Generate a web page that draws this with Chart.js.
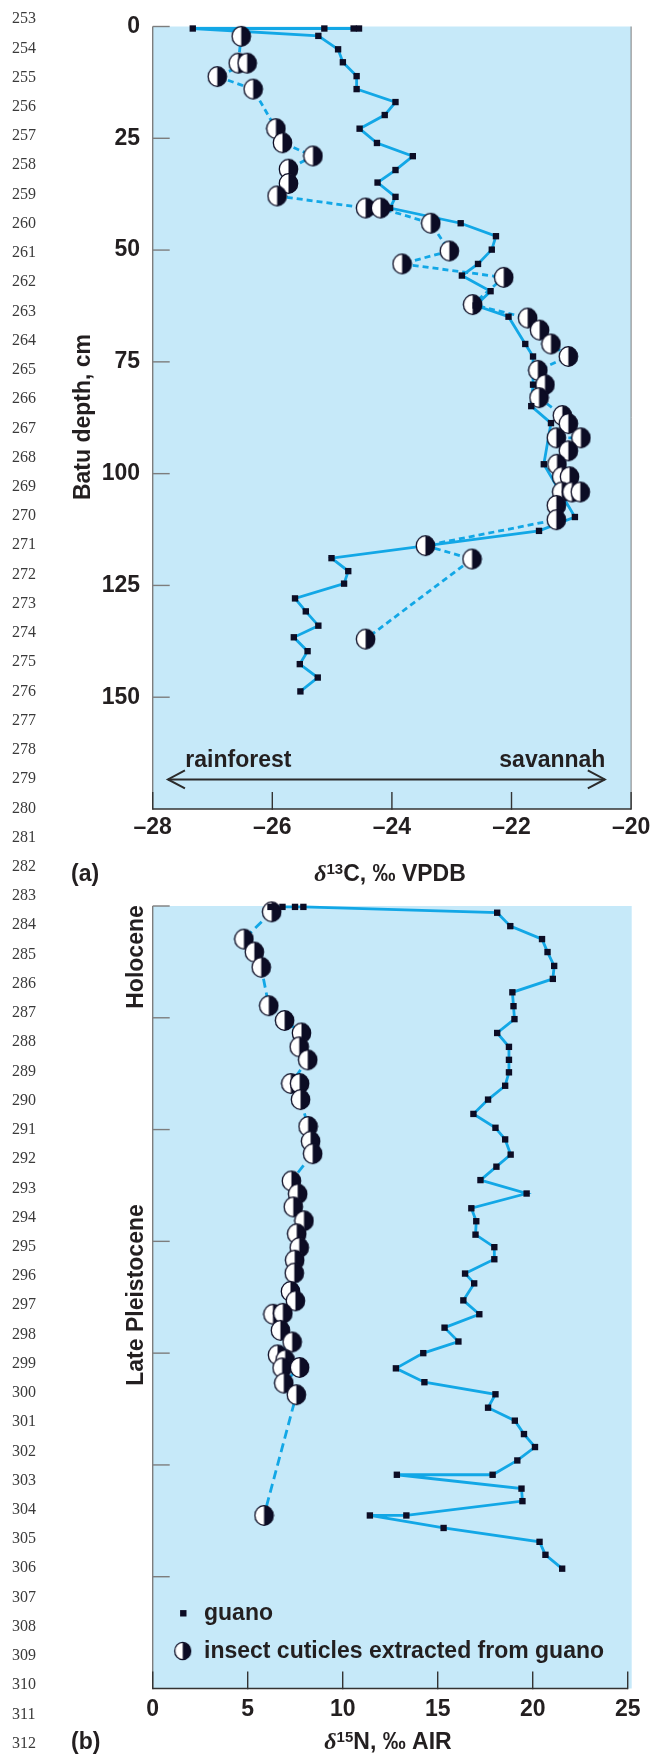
<!DOCTYPE html>
<html>
<head>
<meta charset="utf-8">
<script src="https://cdn.jsdelivr.net/npm/chart.js@4.4.1/dist/chart.umd.min.js"></script>
<style>
html, body { margin: 0; padding: 0; background: #fff; }
#wrap { position: relative; width: 655px; height: 1755px; overflow: hidden; }
#wrap canvas { position: absolute; left: 0; }
.ln { position: absolute; left: 12px; font: 16px "Liberation Serif", "DejaVu Serif", serif; color: #3a3a3a; line-height: 16px; }
</style>
</head>
<body>
<div id="wrap">
  <canvas id="c13" width="655" height="900" style="top:0"></canvas>
  <canvas id="n15" width="655" height="875" style="top:880px"></canvas>
</div>
<script>
// panel (a): d13C vs depth
const carbonGuanoX = [-24.55, -24.64, -25.13, -27.33, -25.23, -24.90, -24.82, -24.59, -24.59, -23.94, -24.12, -24.54, -24.25, -23.65, -23.94, -24.24, -23.94, -24.03, -22.85, -22.26, -22.33, -22.56, -22.83, -22.35, -22.60, -22.05, -21.77, -21.64, -21.64, -21.67, -21.34, -21.46, -20.94, -21.54, -25.01, -24.73, -24.80, -25.62, -25.44, -25.23, -25.64, -25.41, -25.54, -25.24, -25.53];
const carbonGuanoDepth = [0.45, 0.45, 0.45, 0.45, 2.1, 5.1, 8.0, 11.1, 14.0, 16.9, 19.8, 22.85, 26.05, 29.0, 32.1, 34.9, 38.1, 40.6, 44.0, 46.9, 49.9, 53.1, 55.7, 59.2, 62.4, 64.9, 71.0, 73.8, 80.1, 84.9, 88.7, 97.9, 109.7, 112.8, 118.9, 121.8, 124.6, 127.9, 130.8, 134.0, 136.6, 139.7, 142.6, 145.6, 148.7];
const carbonCuticleX = [-26.52, -26.57, -26.42, -26.92, -26.32, -25.94, -25.83, -25.32, -25.73, -25.73, -25.92, -24.44, -24.19, -23.35, -23.04, -23.83, -22.13, -22.65, -21.73, -21.53, -21.34, -21.05, -21.56, -21.44, -21.54, -21.15, -21.05, -21.25, -20.84, -21.05, -21.24, -21.16, -21.03, -21.16, -20.99, -20.85, -21.25, -21.25, -23.44, -22.66, -24.44];
const carbonCuticleDepth = [2.2, 8.2, 8.2, 11.2, 14.0, 22.85, 26.0, 28.95, 31.9, 35.1, 37.9, 40.6, 40.6, 44.0, 50.2, 53.1, 56.1, 62.2, 65.2, 67.9, 71.0, 73.8, 76.9, 80.1, 83.0, 87.0, 88.8, 92.0, 92.0, 94.9, 97.9, 100.7, 100.7, 104.1, 104.1, 104.1, 107.1, 110.3, 116.1, 119.1, 137.0];

// panel (b): d15N vs depth
const nitroGuanoX = [6.2, 6.83, 7.49, 7.93, 18.13, 18.82, 20.49, 20.78, 21.13, 21.06, 18.93, 18.99, 19.04, 18.13, 18.75, 18.75, 18.75, 18.55, 17.65, 16.88, 18.04, 18.55, 18.84, 18.09, 17.25, 19.68, 16.77, 17.03, 16.99, 17.98, 17.98, 16.44, 16.92, 16.35, 17.19, 15.36, 16.09, 14.24, 12.80, 14.30, 18.04, 17.65, 19.06, 19.54, 20.12, 19.19, 17.89, 12.85, 19.41, 19.46, 13.35, 11.43, 15.31, 20.36, 20.67, 21.55];
const nitroGuanoDepth = [0.2, 0.2, 0.2, 0.2, 1.5, 4.5, 7.4, 10.3, 13.4, 16.3, 19.3, 22.4, 25.3, 28.4, 31.5, 34.4, 37.2, 40.2, 43.3, 46.5, 49.6, 52.2, 55.6, 58.3, 61.3, 64.3, 67.6, 70.5, 73.5, 76.3, 79.0, 82.2, 84.4, 88.2, 91.3, 94.3, 97.4, 100.0, 103.4, 106.5, 109.2, 112.2, 115.1, 118.1, 121.0, 124.0, 127.2, 127.2, 130.3, 133.1, 136.3, 136.3, 139.1, 142.2, 145.1, 148.2];
const nitroCuticleX = [6.26, 4.80, 5.35, 5.71, 6.11, 6.94, 7.83, 7.71, 8.16, 7.27, 7.73, 7.78, 8.18, 8.31, 8.42, 7.30, 7.63, 7.40, 7.96, 7.58, 7.71, 7.47, 7.45, 7.25, 7.51, 6.33, 6.85, 6.72, 7.34, 6.57, 6.97, 6.81, 7.73, 6.90, 7.56, 5.86];
const nitroCuticleDepth = [1.3, 7.4, 10.3, 13.7, 22.3, 25.6, 28.4, 31.5, 34.4, 39.7, 39.7, 43.3, 49.3, 52.6, 55.4, 61.5, 64.4, 67.3, 70.4, 73.3, 76.4, 79.2, 82.1, 86.2, 88.3, 91.3, 91.1, 94.9, 97.5, 100.4, 101.5, 103.3, 103.2, 106.7, 109.3, 136.3];

const depthTicks = [0, 25, 50, 75, 100, 125, 150];
const carbonTicks = [-28, -26, -24, -22, -20];
const nitroTicks = [0, 5, 10, 15, 20, 25];

const BG = '#c6e9f9';
const LINE = '#12a7e6';
const MARK = '#0c0c24';
const TXT = '#231f20';
const GRAY = '#7d7d7d';
const SANS = '"Liberation Sans", Arial, sans-serif';
const BOLD = 'bold 23px ' + SANS;

// manuscript line numbers down the left margin
const wrap = document.getElementById('wrap');
for (let n = 253; n <= 312; n++) {
  const d = document.createElement('div');
  d.className = 'ln';
  d.textContent = n;
  d.style.top = (18.3 + (n - 253) * 29.23 - 8) + 'px';
  wrap.appendChild(d);
}

function pts(xs, ds) { return xs.map((x, i) => ({ x, y: ds[i] })); }

function halfDisc(rx, ry) {
  const c = document.createElement('canvas');
  const w = Math.round(rx * 2 + 3), h = Math.round(ry * 2 + 3);
  c.width = w; c.height = h;
  const g = c.getContext('2d');
  const cx = w / 2, cy = h / 2;
  g.beginPath(); g.ellipse(cx, cy, rx, ry, 0, 0, Math.PI * 2);
  g.fillStyle = '#fff'; g.fill();
  g.save(); g.beginPath(); g.rect(cx, 0, w, h); g.clip();
  g.beginPath(); g.ellipse(cx, cy, rx, ry, 0, 0, Math.PI * 2);
  g.fillStyle = MARK; g.fill(); g.restore();
  g.beginPath(); g.ellipse(cx, cy, rx, ry, 0, 0, Math.PI * 2);
  g.lineWidth = 1.3; g.strokeStyle = MARK; g.stroke();
  return c;
}
const disc = halfDisc(9.2, 9.8);
const discSmall = halfDisc(8.0, 8.6);

function seg(ctx, x1, y1, x2, y2) { ctx.beginPath(); ctx.moveTo(x1, y1); ctx.lineTo(x2, y2); ctx.stroke(); }

function paintBg(chart) {
  const { ctx, chartArea: a } = chart;
  ctx.save();
  ctx.fillStyle = BG;
  ctx.fillRect(a.left, a.top, a.right - a.left, a.bottom - a.top);
  ctx.restore();
}

function frame(chart, xTicks, rightLine, xEnd) {
  const { ctx, chartArea: a, scales: { x, y } } = chart;
  ctx.save();
  ctx.strokeStyle = GRAY; ctx.lineWidth = 1.4;
  seg(ctx, a.left, a.top, a.left, a.bottom);
  if (rightLine) { ctx.lineWidth = 1; seg(ctx, a.right, a.top, a.right, a.bottom); }
  ctx.lineWidth = 1.4;
  depthTicks.forEach(v => { const py = y.getPixelForValue(v); seg(ctx, a.left, py, a.left + 17, py); });
  ctx.strokeStyle = '#333'; ctx.lineWidth = 1.6;
  seg(ctx, a.left, a.bottom, xEnd, a.bottom);
  ctx.lineWidth = 1.4;
  xTicks.forEach(v => { const px = x.getPixelForValue(v); seg(ctx, px, a.bottom + 0.8, px, a.bottom - 17); });
  ctx.restore();
}

// title pieces: [text, font, raise]
function richText(ctx, parts, cx, base) {
  let w = 0;
  parts.forEach(p => { ctx.font = p[1]; w += ctx.measureText(p[0]).width; });
  let x = cx - w / 2;
  ctx.textAlign = 'left'; ctx.textBaseline = 'alphabetic'; ctx.fillStyle = TXT;
  parts.forEach(p => { ctx.font = p[1]; ctx.fillText(p[0], x, base - (p[2] || 0)); x += ctx.measureText(p[0]).width; });
}

function vText(ctx, s, bx, cy) {
  ctx.save();
  ctx.translate(bx, cy); ctx.rotate(-Math.PI / 2);
  ctx.font = BOLD; ctx.fillStyle = TXT; ctx.textAlign = 'center'; ctx.textBaseline = 'alphabetic';
  ctx.fillText(s, 0, 0);
  ctx.restore();
}

const decorA = {
  id: 'decorA',
  beforeDraw: paintBg,
  beforeDatasetsDraw(chart) {
    const { ctx, chartArea: a, scales: { x, y } } = chart;
    frame(chart, carbonTicks, true, a.right);
    // rainforest <-> savannah arrow
    const yA = y.getPixelForValue(168.4);
    const xl = x.getPixelForValue(-27.745), xr = x.getPixelForValue(-20.44);
    ctx.save();
    ctx.strokeStyle = '#2b2b2b'; ctx.lineWidth = 2;
    seg(ctx, xl, yA, xr, yA);
    ctx.beginPath(); ctx.moveTo(xl + 17, yA - 9); ctx.lineTo(xl, yA); ctx.lineTo(xl + 17, yA + 9); ctx.stroke();
    ctx.beginPath(); ctx.moveTo(xr - 17, yA - 9); ctx.lineTo(xr, yA); ctx.lineTo(xr - 17, yA + 9); ctx.stroke();
    ctx.font = BOLD; ctx.fillStyle = TXT; ctx.textBaseline = 'alphabetic';
    const yT = y.getPixelForValue(165.6);
    ctx.textAlign = 'left'; ctx.fillText('rainforest', x.getPixelForValue(-27.455), yT);
    ctx.textAlign = 'right'; ctx.fillText('savannah', x.getPixelForValue(-20.43), yT);
    ctx.restore();
  },
  afterDraw(chart) {
    const { ctx } = chart;
    ctx.save();
    vText(ctx, 'Batu depth, cm', 90, 417);
    richText(ctx, [['δ', 'italic bold 24px "Liberation Serif", serif'], ['13', 'bold 15px ' + SANS, 7], ['C, ‰ VPDB', BOLD]], 390, 881);
    ctx.font = BOLD; ctx.textAlign = 'left'; ctx.fillText('(a)', 71, 881);
    ctx.restore();
  }
};

const decorB = {
  id: 'decorB',
  beforeDraw: paintBg,
  beforeDatasetsDraw(chart) {
    frame(chart, nitroTicks, false, chart.scales.x.getPixelForValue(25));
  },
  afterDraw(chart) {
    const { ctx } = chart;
    ctx.save();
    vText(ctx, 'Holocene', 142.5, 77);
    vText(ctx, 'Late Pleistocene', 142.5, 415);
    // legend
    ctx.fillStyle = MARK;
    ctx.fillRect(183.3 - 3.2, 733.3 - 3.2, 6.4, 6.4);
    ctx.drawImage(discSmall, 182.7 - discSmall.width / 2, 771 - discSmall.height / 2);
    ctx.font = BOLD; ctx.fillStyle = TXT; ctx.textAlign = 'left'; ctx.textBaseline = 'alphabetic';
    ctx.fillText('guano', 204, 740);
    ctx.fillText('insect cuticles extracted from guano', 204, 778.3);
    richText(ctx, [['δ', 'italic bold 24px "Liberation Serif", serif'], ['15', 'bold 15px ' + SANS, 7], ['N, ‰ AIR', BOLD]], 388, 869);
    ctx.font = BOLD; ctx.textAlign = 'left'; ctx.fillText('(b)', 71, 869);
    ctx.restore();
  }
};

function datasets(gx, gd, cx, cd, dash) {
  return [
    { label: 'guano', data: pts(gx, gd), showLine: false, pointStyle: 'rect', pointRadius: 4.5,
      pointBackgroundColor: MARK, pointBorderWidth: 0, order: 1, clip: false },
    { label: 'insect cuticles', data: pts(cx, cd), showLine: true, borderColor: LINE, borderWidth: 2.8,
      borderDash: dash, pointStyle: disc, pointRadius: 9, order: 2, clip: false },
    { label: 'guano line', data: pts(gx, gd), showLine: true, borderColor: LINE, borderWidth: 2.8,
      pointRadius: 0, order: 3, clip: false }
  ];
}

function options(xMin, xMax, xTicks, xLabel, showY, tickPad, bottomH, topPad) {
  return {
    responsive: false, animation: false, devicePixelRatio: 1,
    layout: { padding: { top: topPad, right: 23.3, left: 0, bottom: 0 } },
    plugins: { legend: { display: false }, tooltip: { enabled: false } },
    scales: {
      x: {
        type: 'linear', min: xMin, max: xMax,
        afterBuildTicks: s => { s.ticks = xTicks.map(v => ({ value: v })); },
        afterFit: s => { s.height = bottomH; },
        grid: { display: false, drawTicks: false }, border: { display: false },
        ticks: { padding: tickPad, color: TXT, font: { family: SANS, size: 23, weight: 'bold' }, callback: xLabel }
      },
      y: {
        type: 'linear', reverse: true, min: 0, max: 175,
        afterBuildTicks: s => { s.ticks = depthTicks.map(v => ({ value: v })); },
        afterFit: s => { s.width = 152.7; },
        grid: { display: false, drawTicks: false }, border: { display: false },
        ticks: { display: showY, padding: 12.7, color: TXT, font: { family: SANS, size: 23, weight: 'bold' } }
      }
    }
  };
}

new Chart(document.getElementById('c13'), {
  type: 'scatter',
  data: { datasets: datasets(carbonGuanoX, carbonGuanoDepth, carbonCuticleX, carbonCuticleDepth, [6, 4]) },
  options: options(-28, -20, carbonTicks, v => v < 0 ? '\u2013' + Math.abs(v) : String(v), true, 4.7, 91, 25.5),
  plugins: [decorA]
});

new Chart(document.getElementById('n15'), {
  type: 'scatter',
  data: { datasets: datasets(nitroGuanoX, nitroGuanoDepth, nitroCuticleX, nitroCuticleDepth, [9, 5]) },
  options: options(0, 25.21, nitroTicks, v => String(v), false, 7.7, 66.5, 26),
  plugins: [decorB]
});
</script>
</body>
</html>
